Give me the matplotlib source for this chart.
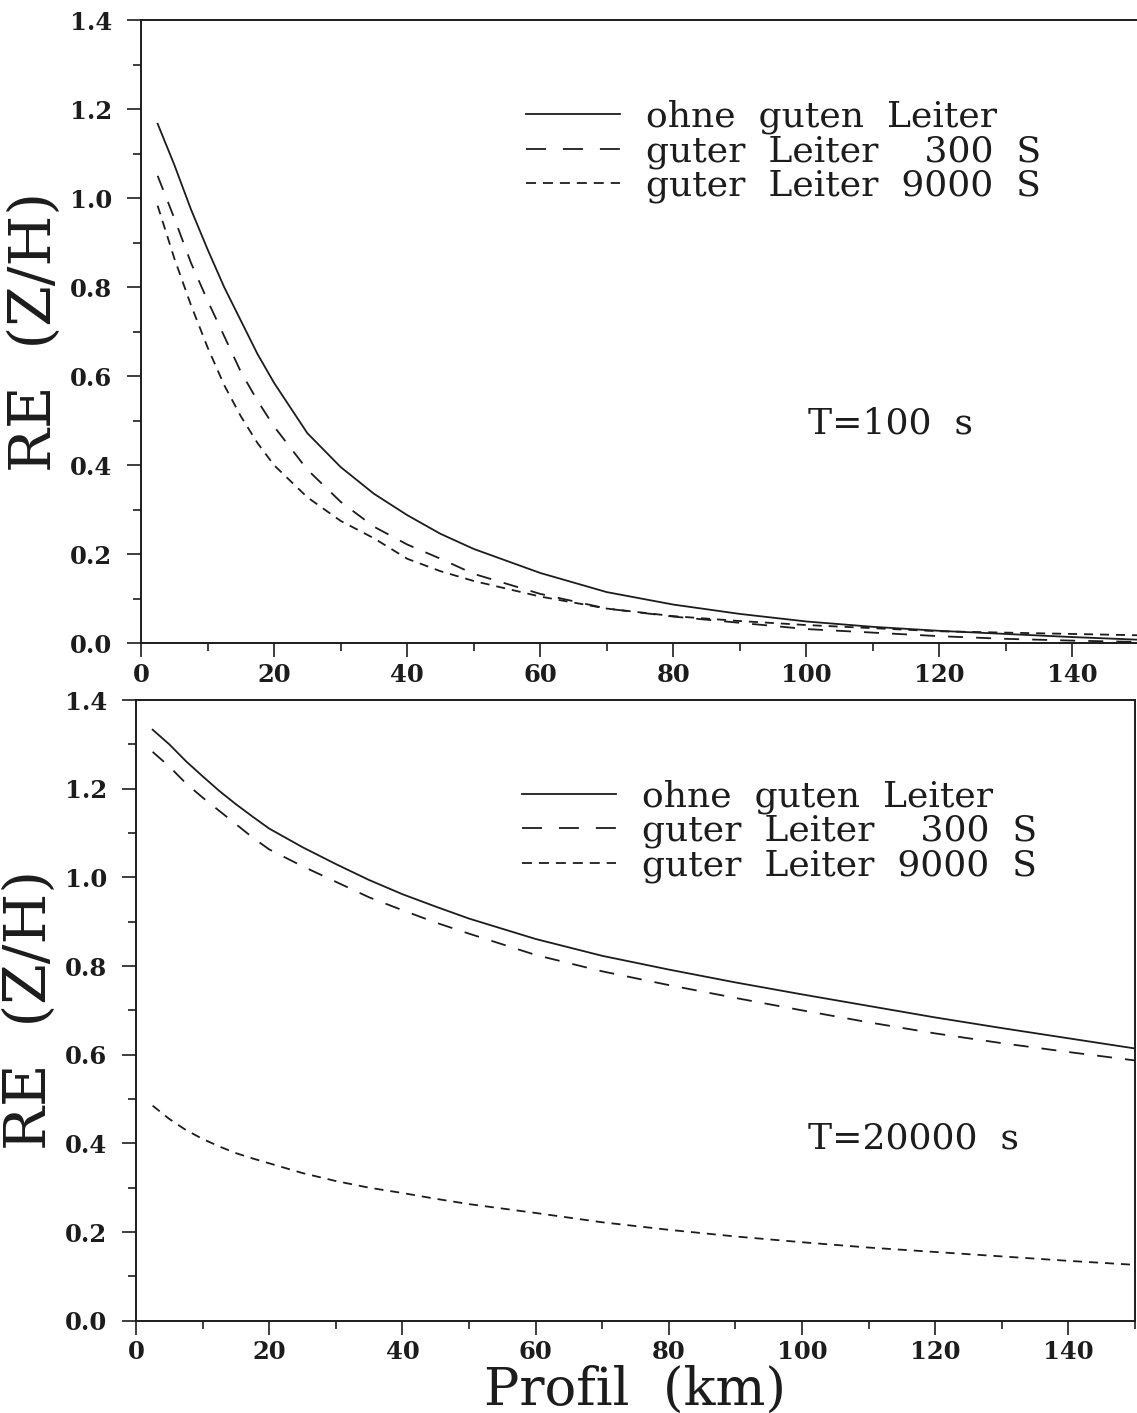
import matplotlib
matplotlib.use("Agg")
import matplotlib.pyplot as plt
from matplotlib.lines import Line2D
from matplotlib.ticker import MultipleLocator, FormatStrFormatter

plt.rcParams["font.family"] = ["DejaVu Serif"]
plt.rcParams["lines.scale_dashes"] = False

# Profile positions (km)
profil_km = [2.5, 5, 7.5, 10, 12.5, 15, 17.5, 20, 25, 30, 35, 40, 45, 50,
             60, 70, 80, 90, 100, 110, 120, 130, 140, 150]

# T = 100 s
re_100_ohne = [1.167, 1.075, 0.975, 0.885, 0.80, 0.725, 0.65, 0.585, 0.472,
               0.396, 0.336, 0.288, 0.246, 0.212, 0.158, 0.115, 0.087, 0.066,
               0.049, 0.037, 0.028, 0.021, 0.014, 0.008]
re_100_300 = [1.05, 0.955, 0.855, 0.77, 0.69, 0.61, 0.545, 0.487, 0.39, 0.318,
              0.262, 0.222, 0.19, 0.156, 0.111, 0.078, 0.060, 0.046, 0.032,
              0.024, 0.016, 0.010, 0.006, 0.003]
re_100_9000 = [0.983, 0.865, 0.76, 0.665, 0.58, 0.51, 0.45, 0.40, 0.328, 0.275,
               0.236, 0.19, 0.162, 0.14, 0.105, 0.078, 0.061, 0.050, 0.041,
               0.034, 0.027, 0.024, 0.021, 0.018]

# T = 20000 s
re_20000_ohne = [1.333, 1.30, 1.262, 1.228, 1.195, 1.165, 1.137, 1.11, 1.068,
                 1.03, 0.994, 0.962, 0.934, 0.907, 0.861, 0.823, 0.792, 0.763,
                 0.736, 0.71, 0.684, 0.66, 0.637, 0.614]
re_20000_300 = [1.283, 1.25, 1.212, 1.18, 1.15, 1.12, 1.09, 1.063, 1.025,
                0.99, 0.955, 0.926, 0.898, 0.873, 0.825, 0.788, 0.757, 0.728,
                0.70, 0.673, 0.648, 0.626, 0.606, 0.587]
re_20000_9000 = [0.485, 0.455, 0.43, 0.41, 0.393, 0.378, 0.366, 0.355, 0.333,
                 0.315, 0.30, 0.288, 0.275, 0.263, 0.243, 0.222, 0.205, 0.19,
                 0.177, 0.165, 0.155, 0.145, 0.135, 0.126]

legend_labels = ["ohne  guten  Leiter",
                 "guter  Leiter    300  S",
                 "guter  Leiter  9000  S"]
periods = ["T=100  s", "T=20000  s"]

x_ticks = [0, 20, 40, 60, 80, 100, 120, 140]
y_ticks = [0.0, 0.2, 0.4, 0.6, 0.8, 1.0, 1.2, 1.4]

INK = "#1c1c1c"
LW = 1.3
LONG = (0, (10.8, 9.4))
SHORT = (0, (6.5, 5.0))

W, H = 1137, 1413
fig = plt.figure(figsize=(W / 100, H / 100), dpi=100)
fig.patch.set_facecolor("white")


def px_axes(left, top, right, bottom):
    return fig.add_axes([left / W, 1 - bottom / H, (right - left) / W, (bottom - top) / H])


ax_top = px_axes(141, 20, 1139, 643.3)
ax_bot = px_axes(136, 700, 1135, 1320.7)

panels = [
    (ax_top, re_100_ohne, re_100_300, re_100_9000, periods[0], (0.668, 0.353)),
    (ax_bot, re_20000_ohne, re_20000_300, re_20000_9000, periods[1], (0.673, 0.294)),
]

for ax, ohne, l300, l9000, period, tpos in panels:
    ax.plot(profil_km, ohne, color=INK, lw=LW, linestyle="-")
    ax.plot(profil_km, l300, color=INK, lw=LW, linestyle=LONG)
    ax.plot(profil_km, l9000, color=INK, lw=LW, linestyle=SHORT)

    ax.set_xlim(0, 150)
    ax.set_ylim(0, 1.4)
    ax.set_xticks(x_ticks)
    ax.set_yticks(y_ticks)
    ax.xaxis.set_minor_locator(MultipleLocator(10))
    ax.yaxis.set_minor_locator(MultipleLocator(0.1))
    ax.yaxis.set_major_formatter(FormatStrFormatter("%.1f"))
    ax.tick_params(which="major", direction="out", length=10, width=1.2, color=INK,
                   labelsize=17.5, labelcolor=INK)
    ax.tick_params(which="minor", direction="out", length=6, width=1.2, color=INK)
    ax.tick_params(axis="y", which="major", pad=11)
    ax.tick_params(axis="x", which="major", pad=4)
    for lab in ax.get_xticklabels() + ax.get_yticklabels():
        lab.set_fontweight("bold")
    for sp in ax.spines.values():
        sp.set_linewidth(1.4)
        sp.set_color(INK)

    ax.set_ylabel("RE  (Z/H)", fontsize=42, color=INK)
    ax.yaxis.label.set_va("center")
    ax.yaxis.set_label_coords(-0.106, 0.5)

    handles = [
        Line2D([], [], color=INK, lw=LW, linestyle="-"),
        Line2D([], [], color=INK, lw=LW, linestyle=(0, (14.4, 12.2))),
        Line2D([], [], color=INK, lw=LW, linestyle=(0, (7.2, 5.0))),
    ]
    ax.legend(handles, legend_labels, loc="upper left", bbox_to_anchor=(0.386, 0.872),
              frameon=False, fontsize=26, handlelength=2.6, handletextpad=0.72,
              labelspacing=0.0, borderpad=0, borderaxespad=0,
              labelcolor=INK)

    ax.text(tpos[0], tpos[1], period, transform=ax.transAxes, fontsize=26,
            color=INK, ha="left", va="center")

ax_bot.set_xlabel("Profil  (km)", fontsize=38, color=INK)
ax_bot.xaxis.label.set_va("center")
ax_bot.xaxis.set_label_coords(0.5, -0.112)

fig.savefig("out.png", dpi=100, facecolor="white")
